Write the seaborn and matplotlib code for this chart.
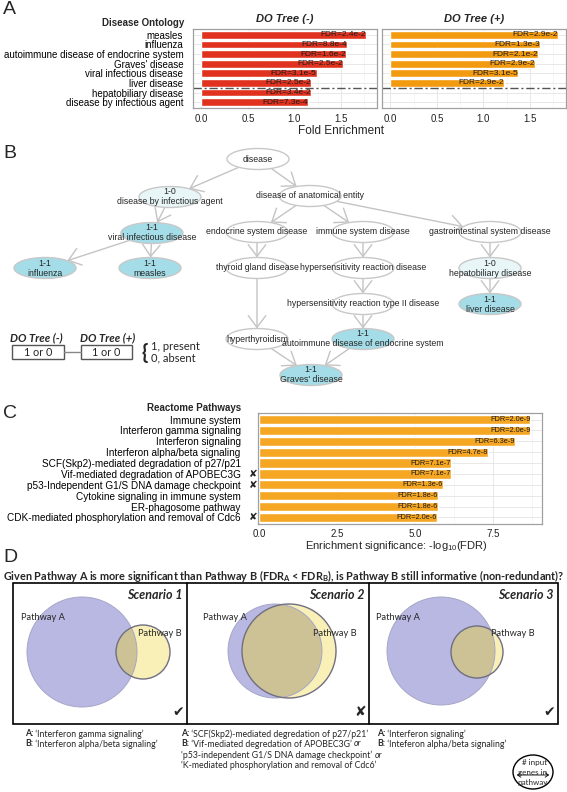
import numpy as np
import pandas as pd
import matplotlib
matplotlib.use("Agg")
import matplotlib.pyplot as plt
import seaborn as sns
from matplotlib.patches import Ellipse, Circle, Rectangle, FancyArrowPatch

sns.set_style("white")
plt.rcParams['font.family'] = ['Liberation Sans', 'DejaVu Sans']
plt.rcParams['mathtext.fontset'] = 'custom'
plt.rcParams['mathtext.rm'] = 'Liberation Sans'
plt.rcParams['mathtext.bf'] = 'Lato:bold'
plt.rcParams['mathtext.it'] = 'Liberation Sans:italic'

# ---------------- data ----------------
do_terms = ["measles", "influenza", "autoimmune disease of endocrine system",
            "Graves' disease", "viral infectious disease", "liver disease",
            "hepatobiliary disease", "disease by infectious agent"]
do_minus_fold = [1.77, 1.57, 1.56, 1.52, 1.24, 1.18, 1.18, 1.15]
do_minus_fdr = ["2.4e-2", "8.8e-4", "1.6e-2", "2.5e-2", "3.1e-5", "2.5e-2", "3.4e-2", "7.3e-4"]
do_plus_terms = ["measles", "influenza", "autoimmune disease of endocrine system",
                 "Graves' disease", "viral infectious disease", "liver disease"]
do_plus_fold = [1.80, 1.61, 1.59, 1.56, 1.37, 1.22]
do_plus_fdr = ["2.9e-2", "1.3e-3", "2.1e-2", "2.9e-2", "3.1e-5", "2.9e-2"]
fold_ticks = [0.0, 0.5, 1.0, 1.5]

reactome_terms = ["Immune system", "Interferon gamma signaling", "Interferon signaling",
                  "Interferon alpha/beta signaling", "SCF(Skp2)-mediated degradation of p27/p21",
                  "Vif-mediated degradation of APOBEC3G", "p53-Independent G1/S DNA damage checkpoint",
                  "Cytokine signaling in immune system", "ER-phagosome pathway",
                  "CDK-mediated phosphorylation and removal of Cdc6"]
reactome_sig = [8.70, 8.70, 8.20, 7.33, 6.15, 6.15, 5.89, 5.74, 5.74, 5.70]
reactome_fdr = ["2.0e-9", "2.0e-9", "6.3e-9", "4.7e-8", "7.1e-7", "7.1e-7", "1.3e-6",
                "1.8e-6", "1.8e-6", "2.0e-6"]
reactome_redundant = [False, False, False, False, False, True, True, False, False, True]
sig_ticks = [0.0, 2.5, 5.0, 7.5]

do_nodes = ["disease", "disease by infectious agent", "disease of anatomical entity",
            "viral infectious disease", "endocrine system disease", "immune system disease",
            "gastrointestinal system disease", "influenza", "measles", "thyroid gland disease",
            "hypersensitivity reaction disease", "hepatobiliary disease",
            "hypersensitivity reaction type II disease", "liver disease", "hyperthyroidism",
            "autoimmune disease of endocrine system", "Graves' disease"]
do_status = [None, "1-0", None, "1-1", None, None, None, "1-1", "1-1", None, None,
             "1-0", None, "1-1", None, "1-1", "1-1"]
do_edges = [(0, 1), (0, 2), (1, 3), (3, 7), (3, 8), (2, 4), (2, 5), (2, 6), (4, 9),
            (9, 14), (5, 10), (10, 12), (12, 15), (6, 11), (11, 13), (14, 16), (15, 16)]

scenario_names = ["Scenario 1", "Scenario 2", "Scenario 3"]
scenario_verdict = ["\u2714", "\u2718", "\u2714"]
scenario_captions = [
    [[("A:", 'bold'), (" \u2018Interferon gamma signaling\u2019", 'normal')],
     [("B:", 'bold'), (" \u2018Interferon alpha/beta signaling\u2019", 'normal')]],
    [[("A:", 'bold'), (" \u2018SCF(Skp2)-mediated degredation of p27/p21\u2019", 'normal')],
     [("B:", 'bold'), (" \u2018Vif-mediated degredation of APOBEC3G\u2019 ", 'normal'), ("or", 'italic')],
     [("\u2018p53-independent G1/S DNA damage checkpoint\u2019 ", 'normal'), ("or", 'italic')],
     [("\u2018K-mediated phosphorylation and removal of Cdc6\u2019", 'normal')]],
    [[("A:", 'bold'), (" \u2018Interferon signaling\u2019", 'normal')],
     [("B:", 'bold'), (" \u2018Inteferon alpha/beta signaling\u2019", 'normal')]],
]

# ---------------- layout helpers ----------------
W, H = 567, 792
fig = plt.figure(figsize=(W / 100, H / 100), dpi=100)
fig.patch.set_facecolor('white')


def px_axes(x0, y0, x1, y1):
    return fig.add_axes([x0 / W, 1 - y1 / H, (x1 - x0) / W, (y1 - y0) / H])


RED = '#E0321F'
ORANGE = '#F39B10'
ORANGE_C = '#F5A623'


def style_panel(ax, minor):
    ax.set_facecolor('white')
    for s in ax.spines.values():
        s.set_visible(True)
        s.set_color('#a0a0a0')
        s.set_linewidth(0.9)
    ax.set_xticks(minor, minor=True)
    ax.grid(True, which='major', color='#e4e4e4', lw=0.6)
    ax.grid(True, which='minor', axis='x', color='#f0f0f0', lw=0.4)
    ax.set_axisbelow(True)
    ax.tick_params(which='minor', length=0)
    ax.set_xlabel('')
    ax.set_ylabel('')


# ---------------- Panel A ----------------
axL = px_axes(193, 29, 377, 108)
axR = px_axes(382, 29, 566, 108)
dfm = pd.DataFrame({'term': do_terms, 'fold': do_minus_fold})
dfp = pd.DataFrame({'term': do_plus_terms, 'fold': do_plus_fold})
sns.barplot(data=dfm, x='fold', y='term', order=do_terms, color=RED, saturation=1,
            width=0.8, errorbar=None, ax=axL)
sns.barplot(data=dfp, x='fold', y='term', order=do_terms, color=ORANGE, saturation=1,
            width=0.8, errorbar=None, ax=axR)
for ax, vals, fdrs in [(axL, do_minus_fold, do_minus_fdr), (axR, do_plus_fold, do_plus_fdr)]:
    style_panel(ax, [0.25, 0.75, 1.25, 1.75])
    ax.set_xlim(-0.09, 1.89)
    ax.set_ylim(len(do_terms) - 0.4, -0.6)
    ax.set_xticks(fold_ticks)
    ax.set_xticklabels([f"{t:.1f}" for t in fold_ticks])
    ax.tick_params(axis='x', labelsize=7, length=2, pad=2, colors='#333333', labelcolor='#222222')
    for i, (v, f) in enumerate(zip(vals, fdrs)):
        ax.text(v, i, f"FDR={f}", ha='right', va='center', fontsize=6, color='#1a1a1a')
    ax.axhline(5.5, color='#555555', lw=1.0, ls=(0, (6, 2, 1.5, 2)))
axL.tick_params(axis='y', labelsize=7, length=2, pad=5, colors='#333333', labelcolor='black')
axR.tick_params(axis='y', left=False, labelleft=False)
axR.set_yticklabels([])

# ---------------- Panel C ----------------
axC = px_axes(258, 413, 542, 524)
dfr = pd.DataFrame({'pathway': reactome_terms, 'sig': reactome_sig})
sns.barplot(data=dfr, x='sig', y='pathway', order=reactome_terms, color=ORANGE_C,
            saturation=1, width=0.85, errorbar=None, ax=axC)
style_panel(axC, [1.25, 3.75, 6.25, 8.75])
axC.set_xlim(-0.03, 9.07)
axC.set_ylim(len(reactome_terms) - 0.4, -0.6)
axC.set_xticks(sig_ticks)
axC.set_xticklabels([f"{t:.1f}" for t in sig_ticks])
axC.tick_params(axis='x', labelsize=7, length=2, pad=1.5, colors='#333333', labelcolor='#222222')
axC.tick_params(axis='y', labelsize=7.2, length=2, pad=10.5, colors='#333333', labelcolor='black')
for i, (v, f) in enumerate(zip(reactome_sig, reactome_fdr)):
    axC.text(v, i, f"FDR={f}", ha='right', va='center', fontsize=5.3, color='#1a1a1a')

# ---------------- overlay (pixel coords) ----------------
ax0 = fig.add_axes([0, 0, 1, 1])
ax0.set_xlim(0, W)
ax0.set_ylim(H, 0)
ax0.axis('off')
ax0.set_zorder(5)

for lab, (x, y) in zip("ABCD", [(3, 9), (3, 154), (3, 414), (3, 558)]):
    ax0.text(x, y, lab, fontsize=14, ha='left', va='center')

# panel A texts
ax0.text(184, 23, "Disease Ontology", fontsize=7, fontweight='bold', ha='right', va='center')
ax0.text(285, 19, "DO Tree (-)", fontsize=8, fontweight='bold', style='italic', ha='center', va='center')
ax0.text(474, 19, "DO Tree (+)", fontsize=8, fontweight='bold', style='italic', ha='center', va='center')
ax0.text(341, 131, "Fold Enrichment", fontsize=8.5, ha='center', va='center')

# panel C texts
ax0.text(241, 408, "Reactome Pathways", fontsize=7, fontweight='bold', ha='right', va='center')
ax0.text(396, 546, "Enrichment significance: -log$_{10}$(FDR)", fontsize=8, ha='center', va='center')
for i, red in enumerate(reactome_redundant):
    if red:
        yy = 413 + (524 - 413) * (i + 0.6) / (len(reactome_terms) + 0.2)
        ax0.text(253.5, yy, "\u2718", fontsize=7.5, ha='center', va='center',
                 family=['DejaVu Sans'], color='#222222')

# ---------------- Panel B ----------------
node_xy = [(258, 159), (170, 197), (310, 196), (152, 233), (257, 232), (363, 232),
           (490, 232), (45, 268), (150, 268), (257, 268), (363, 268), (490, 268),
           (363, 304), (490, 304), (257, 339), (363, 339), (311, 375)]
EA, EB = 31, 10.5
fills = {None: 'white', '1-0': '#e9f6f8', '1-1': '#a4dde7'}


def ell_pt(c, t):
    dx, dy = t[0] - c[0], t[1] - c[1]
    k = 1 / np.sqrt((dx / EA) ** 2 + (dy / EB) ** 2)
    return c[0] + dx * k, c[1] + dy * k


for u, v in do_edges:
    p0 = ell_pt(node_xy[u], node_xy[v])
    p1 = ell_pt(node_xy[v], node_xy[u])
    ax0.add_patch(FancyArrowPatch(p0, p1, arrowstyle='->,head_length=0.6,head_width=0.45',
                                  mutation_scale=14, color='#c4c4c4', lw=1.0,
                                  shrinkA=0, shrinkB=0, zorder=2))
for name, st, (x, y) in zip(do_nodes, do_status, node_xy):
    ax0.add_patch(Ellipse((x, y), 2 * EA, 2 * EB, facecolor=fills[st], edgecolor='#c8c8c8',
                          lw=1.0, zorder=3))
    if st is None:
        ax0.text(x, y, name, fontsize=6.3, ha='center', va='center', zorder=4)
    else:
        ax0.text(x, y - 5, st, fontsize=6.3, ha='center', va='center', zorder=4)
        ax0.text(x, y + 5, name, fontsize=6.3, ha='center', va='center', zorder=4)

# legend of panel B
LF = ['Lato', 'DejaVu Sans']
ax0.text(10, 338, "DO Tree (-)", fontsize=8.1, fontweight='bold', style='italic', family=LF,
         ha='left', va='center')
ax0.text(80, 338, "DO Tree (+)", fontsize=8.1, fontweight='bold', style='italic', family=LF,
         ha='left', va='center')
for x0, x1 in [(12, 64), (81, 132)]:
    ax0.add_patch(Rectangle((x0, 345), x1 - x0, 14, facecolor='white', edgecolor='#555555', lw=1))
    ax0.text((x0 + x1) / 2, 352, "1 or 0", fontsize=7.8, family=LF, ha='center', va='center')
ax0.plot([64, 81], [352, 352], color='#888888', lw=1)
ax0.text(145, 353, "{", fontsize=15, fontweight='bold', family=LF, ha='center', va='center')
ax0.text(151, 347, "1, present", fontsize=8, family=LF, ha='left', va='center')
ax0.text(151, 358, "0, absent", fontsize=8, family=LF, ha='left', va='center')

# ---------------- Panel D ----------------
ax0.text(284, 576, "Given Pathway A is more significant than Pathway B (FDR$_{\\mathbf{A}}$ < FDR$_{\\mathbf{B}}$), "
         "is Pathway B still informative (non-redundant)?", fontsize=7.8, fontweight='bold',
         family=LF, ha='center', va='center')
ax0.add_patch(Rectangle((13, 583), 545, 141, facecolor='none', edgecolor='black', lw=1.2))
ax0.plot([187, 187], [583, 724], color='black', lw=1.2)
ax0.plot([369, 369], [583, 724], color='black', lw=1.2)

PURPLE = '#b8b8e2'
YELLOW = '#f9f0b8'
OVER = '#cdc196'
circles = [((82, 652, 55), (143, 652, 27)),
           ((275, 651, 47), (289, 651, 47)),
           ((441, 651, 54), (477, 652, 26))]
panel_right = [187, 369, 558]
for k, ((ax_, ay_, ar_), (bx_, by_, br_)) in enumerate(circles):
    ca = Circle((ax_, ay_), ar_, facecolor=PURPLE, edgecolor='none', zorder=2)
    ax0.add_patch(ca)
    ax0.add_patch(Circle((bx_, by_), br_, facecolor=YELLOW, edgecolor='none', zorder=3))
    ov = Circle((bx_, by_), br_, facecolor=OVER, edgecolor='none', zorder=4)
    ax0.add_patch(ov)
    ov.set_clip_path(ca)
    ax0.add_patch(Circle((ax_, ay_), ar_, facecolor='none', edgecolor='#a6a6c8', lw=0.7, zorder=5))
    ax0.add_patch(Circle((bx_, by_), br_, facecolor='none', edgecolor='#6f6f80', lw=1.0, zorder=5))
    ax0.text(panel_right[k] - 4, 595, scenario_names[k], fontsize=9, fontweight='bold',
             style='italic', family=LF, ha='right', va='center', zorder=6)
    ax0.text(panel_right[k] - 9, 712, scenario_verdict[k], fontsize=10, family=['DejaVu Sans'],
             ha='center', va='center', zorder=6)

lab_pos = [((21, 617), (138, 634)), ((203, 617), (313, 634)), ((376, 617), (491, 634))]
for (pa, pb) in lab_pos:
    ax0.text(pa[0], pa[1], "Pathway A", fontsize=6.7, family=LF, ha='left', va='center', zorder=6)
    ax0.text(pb[0], pb[1], "Pathway B", fontsize=6.7, family=LF, ha='left', va='center', zorder=6)

renderer = fig.canvas.get_renderer()


def rich(x, y, parts):
    for txt, sty in parts:
        kw = dict(fontsize=6.3, family=LF, ha='left', va='center')
        if sty == 'bold':
            kw['fontweight'] = 'bold'
        elif sty == 'italic':
            kw['style'] = 'italic'
        t = ax0.text(x, y, txt, **kw)
        x += t.get_window_extent(renderer=renderer).width


cap_x = [25, 181, 377]
line_y = [734, 744, 755, 765]
for k, lines in enumerate(scenario_captions):
    for j, parts in enumerate(lines):
        rich(cap_x[k], line_y[j], parts)

# input-genes oval
ax0.add_patch(Ellipse((533, 772), 40, 34, facecolor='white', edgecolor='black', lw=1.0))
ax0.text(535, 762, "# input", fontsize=5.8, family=LF, ha='center', va='center')
ax0.text(533, 772, "genes in", fontsize=5.8, family=LF, ha='center', va='center')
ax0.text(533, 782, "pathway", fontsize=5.8, family=LF, ha='center', va='center')
ax0.add_patch(FancyArrowPatch((514, 775), (552, 775), arrowstyle='<->,head_length=0.3,head_width=0.2',
                              mutation_scale=8, lw=0.6, color='black'))

fig.savefig("out.png", dpi=100)
